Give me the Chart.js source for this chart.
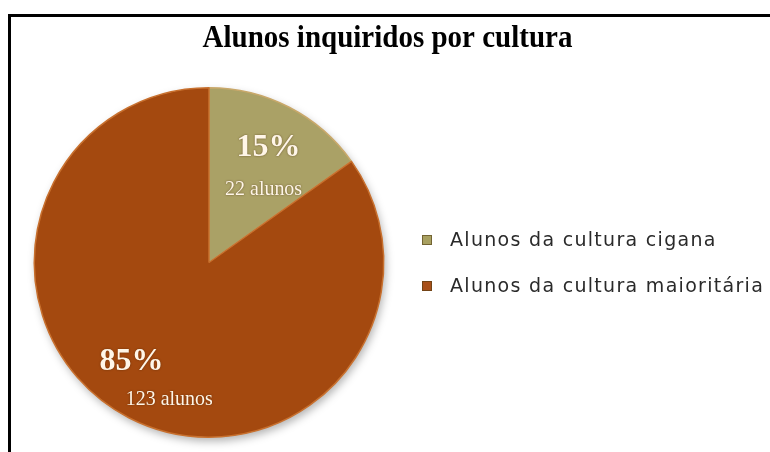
<!DOCTYPE html>
<html>
<head>
<meta charset="utf-8">
<script src="https://cdn.jsdelivr.net/npm/chart.js@4/dist/chart.umd.min.js"></script>
<style>
  html, body { margin: 0; padding: 0; background: #fff; }
  #wrap { position: relative; width: 770px; height: 452px; overflow: hidden; }
  #frame { position: absolute; left: 8px; top: 14px; width: 800px; height: 460px;
           border-top: 3px solid #000; border-left: 3px solid #000; box-sizing: border-box; }
  canvas { position: absolute; left: 0; top: 0; }
</style>
</head>
<body>
<div id="wrap">
  <canvas id="c" width="770" height="452"></canvas>
  <div id="frame"></div>
</div>
<script>
const titleText = 'Alunos inquiridos por cultura';
const categories = ['Alunos da cultura cigana', 'Alunos da cultura maioritária'];
const studentCounts = [22, 123];
const percentLabels = ['15%', '85%'];
const countLabels = ['22 alunos', '123 alunos'];
const sliceColors = ['#AAA166', '#A4490F'];
const legendMarkerColors = ['#A8A060', '#A8501A'];

// label placement: [angle from top (deg, clockwise), radius fraction] for percent and count text
const labelPlacement = [
  { pct: [27.35, 0.742], cnt: [36.6, 0.524] },
  { pct: [217.95, 0.72], cnt: [196.2, 0.816] }
];

const decorPlugin = {
  id: 'decor',
  beforeDatasetsDraw(chart) {
    const ctx = chart.ctx;
    const arc = chart.getDatasetMeta(0).data[0];
    if (!arc) return;
    ctx.save();
    ctx.beginPath();
    ctx.arc(arc.x + 2, arc.y + 4, arc.outerRadius, 0, Math.PI * 2);
    ctx.fillStyle = 'rgba(0,0,0,0.3)';
    ctx.filter = 'blur(4px)';
    ctx.fill();
    ctx.restore();
  },
  afterDraw(chart) {
    const ctx = chart.ctx;
    const meta = chart.getDatasetMeta(0);
    // title
    ctx.save();
    ctx.fillStyle = '#000';
    ctx.font = 'bold 29px "Liberation Serif", "Times New Roman", serif';
    ctx.textAlign = 'center';
    ctx.textBaseline = 'alphabetic';
    ctx.translate(387.5, 47);
    ctx.scale(1, 1.1);
    ctx.fillText(titleText, 0, 0);
    ctx.restore();
    // slice labels
    meta.data.forEach((arc, i) => {
      const R = arc.outerRadius;
      const pl = labelPlacement[i];
      const pos = (a, f) => {
        const t = a * Math.PI / 180;
        return [arc.x + Math.sin(t) * R * f, arc.y - Math.cos(t) * R * f];
      };
      ctx.save();
      ctx.fillStyle = '#FFF6E8';
      ctx.shadowColor = 'rgba(60,30,0,0.6)';
      ctx.shadowBlur = 2;
      ctx.textAlign = 'center';
      ctx.textBaseline = 'middle';
      let p = pos(pl.pct[0], pl.pct[1]);
      ctx.font = 'bold 32px "Liberation Serif", "Times New Roman", serif';
      ctx.fillText(percentLabels[i], p[0], p[1]);
      p = pos(pl.cnt[0], pl.cnt[1]);
      ctx.font = '21px "Liberation Serif", "Times New Roman", serif';
      ctx.save();
      ctx.translate(p[0], p[1]);
      ctx.scale(0.95, 1);
      ctx.fillText(countLabels[i], 0, 0);
      ctx.restore();
      ctx.restore();
    });
    // legend
    ctx.save();
    categories.forEach((lab, i) => {
      const y = 240 + i * 46;
      ctx.fillStyle = legendMarkerColors[i];
      ctx.fillRect(422, y - 5, 10, 10);
      ctx.strokeStyle = 'rgba(80,60,20,0.6)';
      ctx.lineWidth = 1;
      ctx.strokeRect(422.5, y - 4.5, 9, 9);
      ctx.fillStyle = '#2a2a2a';
      ctx.font = '19px "DejaVu Sans", sans-serif';
      ctx.letterSpacing = '1.3px';
      ctx.textAlign = 'left';
      ctx.textBaseline = 'middle';
      ctx.fillText(lab, 450, y + 1);
    });
    ctx.restore();
  }
};

new Chart(document.getElementById('c'), {
  type: 'pie',
  data: {
    labels: categories,
    datasets: [{
      data: studentCounts,
      backgroundColor: sliceColors,
      borderColor: ['#C9A86A', '#C8702E'],
      borderWidth: 1.5
    }]
  },
  options: {
    responsive: false,
    animation: false,
    devicePixelRatio: 1,
    layout: { padding: { left: 31, right: 383, top: 87, bottom: 14 } },
    plugins: {
      legend: { display: false },
      title: { display: false },
      tooltip: { enabled: false }
    }
  },
  plugins: [decorPlugin]
});
</script>
</body>
</html>
